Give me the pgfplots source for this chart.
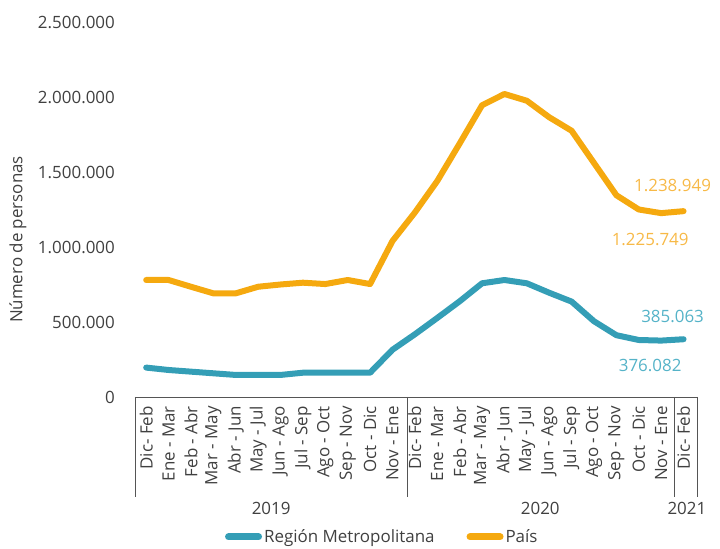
\documentclass[border=0pt]{standalone}
\usepackage{pgfplots}
\pgfplotsset{compat=1.18}
\usepackage{fontspec}
\setmainfont{Open Sans}
\definecolor{orangeL}{HTML}{F5A90F}
\definecolor{blueL}{HTML}{349EB6}
\definecolor{orangeT}{HTML}{F7B947}
\definecolor{blueT}{HTML}{55B3C8}
\definecolor{txt}{HTML}{404040}
\definecolor{axl}{HTML}{555555}
\begin{document}
\begin{tikzpicture}[font=\fontsize{17}{20}\selectfont, text=txt]
\begin{axis}[
  scale only axis, width=562bp, height=375bp,
  xmin=-0.5, xmax=24.6, ymin=0, ymax=2500000,
  axis line style={draw=none},
  major tick length=0pt,
  clip=false,
  xtick={0,...,24},
  xticklabels={Dic- Feb, Ene - Mar, Feb - Abr, Mar - May, Abr - Jun, May - Jul, Jun - Ago, Jul - Sep, Ago - Oct, Sep - Nov, Oct - Dic, Nov - Ene,
               Dic- Feb, Ene - Mar, Feb - Abr, Mar - May, Abr - Jun, May - Jul, Jun - Ago, Jul - Sep, Ago - Oct, Sep - Nov, Oct - Dic, Nov - Ene,
               Dic- Feb},
  xticklabel style={rotate=90, anchor=east, inner xsep=9bp, inner ysep=0pt},
  ytick={0,500000,1000000,1500000,2000000,2500000},
  scaled y ticks=false,
  /pgf/number format/fixed,
  /pgf/number format/1000 sep={.},
  /pgf/number format/assume math mode=true,
  yticklabel style={inner xsep=0pt, xshift=-20bp},
  legend columns=2,
  legend style={at={(rel axis cs:0.44,-0.373)}, anchor=center, draw=none, fill=none,
    font=\fontsize{17}{20}\selectfont,
    /tikz/every even column/.append style={column sep=30bp}},
  legend cell align=left,
  legend image code/.code={\draw[#1, line width=7bp, line cap=round] (2bp,0bp) -- (32bp,0bp);},
]
\addplot[blueL, line width=6bp, line join=round, line cap=round] coordinates {
(0,196000) (1,180000) (2,169000) (3,158000) (4,147000) (5,147000) (6,147000)
(7,162000) (8,162000) (9,162000) (10,162000) (11,315000) (12,418000) (13,527000)
(14,638000) (15,758000) (16,780000) (17,758000) (18,695000) (19,636000) (20,505000)
(21,412000) (22,380000) (23,376082) (24,385063)};
\addlegendentry{Región Metropolitana}
\addplot[orangeL, line width=6bp, line join=round, line cap=round] coordinates {
(0,780000) (1,780000) (2,735000) (3,691000) (4,691000) (5,735000) (6,750000)
(7,762000) (8,753000) (9,780000) (10,753000) (11,1040000) (12,1230000) (13,1440000)
(14,1690000) (15,1945000) (16,2020000) (17,1975000) (18,1865000) (19,1775000) (20,1560000)
(21,1345000) (22,1250000) (23,1225749) (24,1238949)};
\addlegendentry{País}
\draw[axl, line width=0.9bp] (axis cs:-0.5,0) -- (axis cs:24.6,0);
\draw[axl, line width=0.9bp] (axis cs:-0.5,0) -- ++(0bp,-100bp);
\draw[axl, line width=0.9bp] (axis cs:11.65,0) -- ++(0bp,-100bp);
\draw[axl, line width=0.9bp] (axis cs:23.58,0) -- ++(0bp,-100bp);
\draw[axl, line width=0.9bp] (axis cs:24.6,0) -- ++(0bp,-100bp);
\node[yshift=-111bp] at (axis cs:5.58,0) {2019};
\node[yshift=-111bp] at (axis cs:17.6,0) {2020};
\node[yshift=-111bp] at (axis cs:24.15,0) {2021};
\node[xshift=-117bp, rotate=90] at (rel axis cs:0,0.42) {Número de personas};
\node[text=orangeT, xshift=-11bp, yshift=26bp] at (axis cs:24,1238949) {1.238.949};
\node[text=orangeT, xshift=-11bp, yshift=-26bp] at (axis cs:23,1225749) {1.225.749};
\node[text=blueT, xshift=-11bp, yshift=23bp] at (axis cs:24,385063) {385.063};
\node[text=blueT, xshift=-11bp, yshift=-25bp] at (axis cs:23,376082) {376.082};
\coordinate (O) at (rel axis cs:0,0);
\end{axis}
\path[use as bounding box] ([shift={(-135bp,-151bp)}]O) rectangle ([shift={(585bp,397bp)}]O);
\end{tikzpicture}
\end{document}
